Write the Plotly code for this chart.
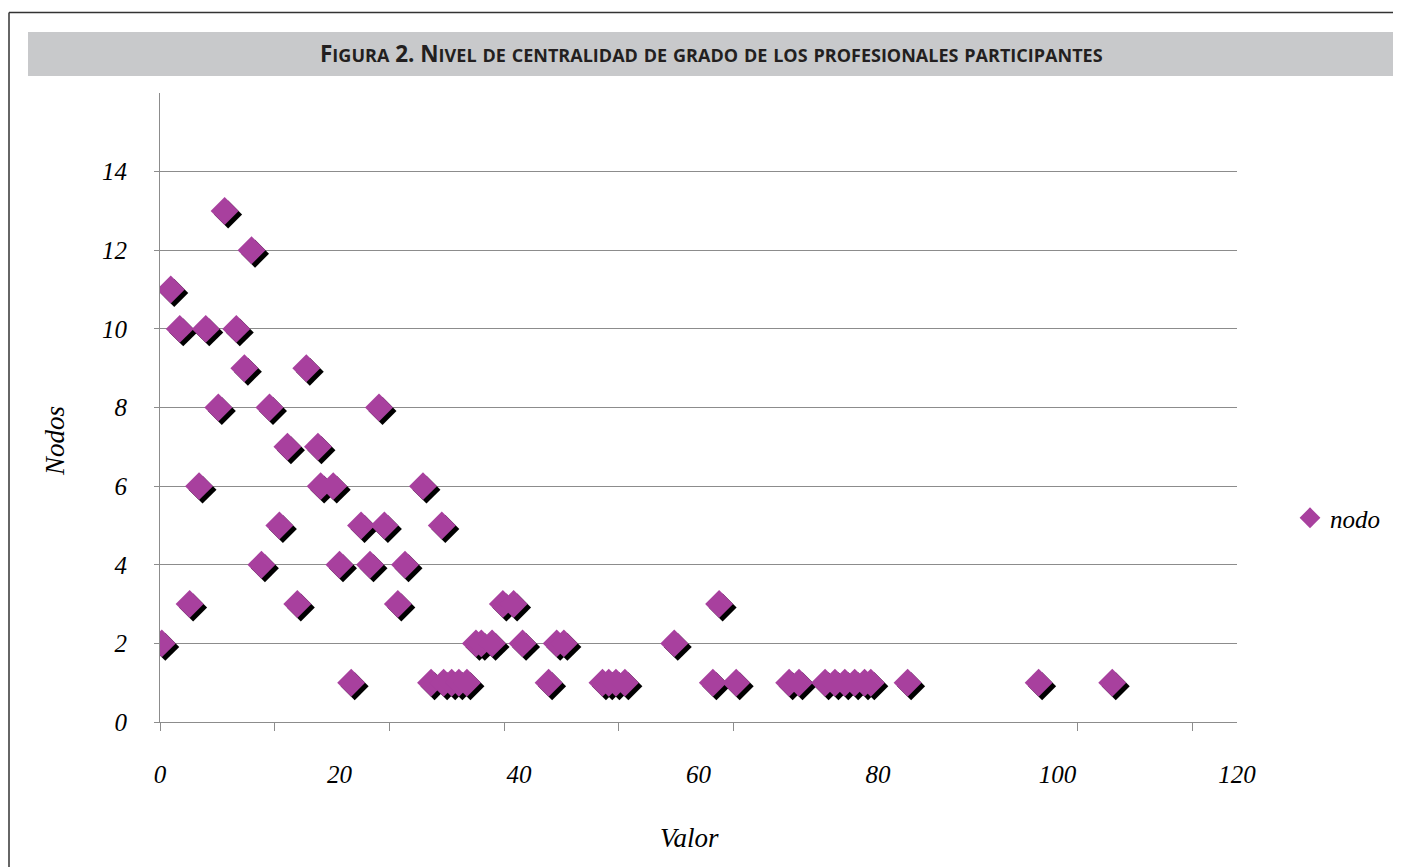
import plotly.graph_objects as go

# ---- data ----
valor = [7.2, 10.2, 1.2,
         2.2, 5.1, 8.5,
         9.4, 16.3,
         6.5, 12.2, 24.4,
         14.2, 17.6,
         4.35, 17.9, 19.3, 29.3,
         13.3, 22.4, 25.0, 31.4,
         11.3, 20.0, 23.4, 27.3,
         3.3, 15.3, 26.5, 38.2, 39.4, 62.3,
         0.2, 35.2, 35.8, 37.0, 40.4, 44.2, 45.0, 57.3,
         21.3, 30.2, 31.6, 32.5, 33.3, 34.2, 43.3, 49.3, 50.0, 50.8, 51.8,
         61.6, 64.2, 70.1, 71.2, 74.1, 75.2, 76.3, 77.4, 78.5, 79.2, 83.3,
         97.9, 106.1]
nodos = [13, 12, 11,
         10, 10, 10,
         9, 9,
         8, 8, 8,
         7, 7,
         6, 6, 6, 6,
         5, 5, 5, 5,
         4, 4, 4, 4,
         3, 3, 3, 3, 3, 3,
         2, 2, 2, 2, 2, 2, 2, 2,
         1, 1, 1, 1, 1, 1, 1, 1, 1, 1, 1,
         1, 1, 1, 1, 1, 1, 1, 1, 1, 1, 1,
         1, 1]
x_ticks = [0, 20, 40, 60, 80, 100, 120]
y_ticks = [0, 2, 4, 6, 8, 10, 12, 14]
series_name = "nodo"
title_text = "Figura 2. Nivel de centralidad de grado de los profesionales participantes"
x_title = "Valor"
y_title = "Nodos"

# ---- layout geometry (pixels in the reference picture) ----
OFF = 8                      # default page body margin
W, H = 1401 - OFF, 867 - OFF
L, R, T, B = 160, 1237, 93, 722
XR = [0, 120]
YR = [0, 16]
ppx = (R - L) / (XR[1] - XR[0])
ppy = (B - T) / (YR[1] - YR[0])
SH = 3.5                     # shadow offset px
TICK_STEP_PX = 114.7         # spacing of the axis tick marks in the reference
tick_marks = [k * TICK_STEP_PX / ppx + 1e-3 for k in (0, 1, 2, 3, 4, 5, 8, 9)]

def px(x):
    return (x - L) / (R - L)

def py(y):
    return (B - y) / (B - T)

def small_caps(text, big=22.5, small=18):
    out = []
    for ch in text:
        if ch.islower():
            out.append('<span style="font-size:%gpx">%s</span>' % (small, ch.upper()))
        else:
            out.append('<span style="font-size:%gpx">%s</span>' % (big, ch))
    return "".join(out)

serif = "Liberation Serif"
purple = "#A8409E"
grid = "#8C8C8C"
msize = 21.5

fig = go.Figure()
# shadow (main subplot, range shifted by a few pixels)
fig.add_trace(go.Scatter(x=valor, y=nodos, mode="markers", xaxis="x", yaxis="y",
                         marker=dict(symbol="diamond", size=msize, color="#000000", line=dict(width=0)),
                         showlegend=False, hoverinfo="skip"))
# markers (overlay subplot with the visible axes)
fig.add_trace(go.Scatter(x=valor, y=nodos, mode="markers", xaxis="x2", yaxis="y2",
                         name=series_name,
                         marker=dict(symbol="diamond", size=msize, color=purple, line=dict(width=0))))

tickfont = dict(family=serif, size=25, color="#000000", style="italic")
titlefont = dict(family=serif, size=27, color="#000000", style="italic")

fig.update_layout(
    width=W, height=H,
    margin=dict(l=L - OFF, r=W - (R - OFF), t=T - OFF, b=H - (B - OFF), autoexpand=False, pad=0),
    paper_bgcolor="white", plot_bgcolor="white",
    xaxis=dict(range=[XR[0] - SH / ppx, XR[1] - SH / ppx], visible=False, fixedrange=True),
    yaxis=dict(range=[YR[0] + SH / ppy, YR[1] + SH / ppy], visible=False, fixedrange=True),
    xaxis2=dict(overlaying="x", anchor="y2", side="bottom", range=XR,
                tickvals=x_ticks, ticks="", showgrid=False, zeroline=False,
                showline=True, linecolor=grid, linewidth=1, tickfont=tickfont,
                ticklabelstandoff=30,
                minor=dict(tickmode="array", tickvals=tick_marks, ticks="outside",
                           ticklen=8, tickcolor=grid, showgrid=False)),
    yaxis2=dict(overlaying="y", anchor="x2", side="left", range=YR,
                tickvals=y_ticks, ticks="outside", ticklen=5, tickcolor=grid,
                showgrid=True, gridcolor=grid, gridwidth=1, zeroline=False,
                showline=True, linecolor=grid, linewidth=1, tickfont=tickfont,
                ticklabelstandoff=22),
    legend=dict(x=px(1290), y=py(518), xanchor="left", yanchor="middle",
                font=tickfont, bgcolor="rgba(0,0,0,0)"),
    showlegend=True,
)

# axis titles
fig.add_annotation(xref="paper", yref="paper", x=px(689), y=py(838), showarrow=False,
                   text=x_title, xanchor="center", yanchor="middle", font=titlefont)
fig.add_annotation(xref="paper", yref="paper", x=px(55), y=py(441), showarrow=False,
                   text=y_title, xanchor="center", yanchor="middle", textangle=-90, font=titlefont)

# title bar and frame
fig.add_shape(type="rect", xref="paper", yref="paper", x0=px(28), x1=px(1396), y0=py(76), y1=py(32),
              fillcolor="#C8C9CB", line=dict(width=0), layer="below")
fig.add_shape(type="line", xref="paper", yref="paper", x0=px(9), x1=px(9), y0=py(12.5), y1=py(900),
              line=dict(color="#333333", width=1.5))
fig.add_shape(type="line", xref="paper", yref="paper", x0=px(9), x1=px(1420), y0=py(12.5), y1=py(12.5),
              line=dict(color="#333333", width=1.5))
fig.add_annotation(xref="paper", yref="paper", x=px(711), y=py(53), showarrow=False,
                   text=small_caps(title_text), xanchor="center", yanchor="middle",
                   font=dict(family="Open Sans", size=22.5, color="#231F20", weight="bold"))

fig.write_html("out.html")
